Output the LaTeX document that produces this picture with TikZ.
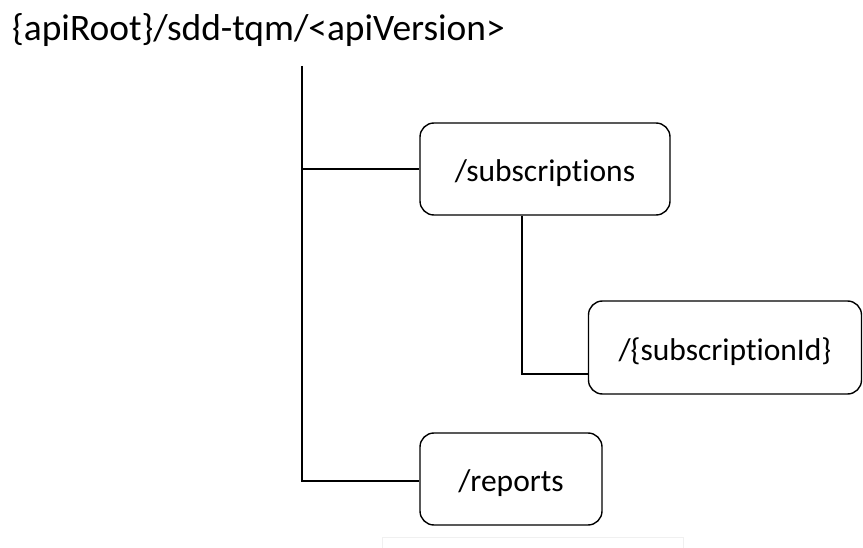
\documentclass[tikz,border=0pt]{standalone}
\usepackage{fontspec}
\setmainfont{Carlito}[Ligatures=NoCommon]
\newcommand{\lowtxt}[1]{\raisebox{-4pt}[\height][\depth]{#1}}
\begin{document}
\begin{tikzpicture}[x=1pt,y=-1pt,
  res/.style={draw,rounded corners=14pt,line width=1.4pt,inner sep=0pt,font=\fontsize{31.5}{36}\selectfont},
  link/.style={line width=1.4pt}]
\useasboundingbox (0,0) rectangle (863,548);
\node[anchor=west,inner sep=0pt,font=\fontsize{37.4}{44}\selectfont] (root) at (12,30) {\{apiRoot\}/sdd-tqm/<apiVersion>};
\node[res,minimum width=250pt,minimum height=92pt] (subs) at (545,169) {\lowtxt{/subscriptions}};
\node[res,minimum width=273pt,minimum height=93pt] (sid) at (725,347.5) {\lowtxt{/\{subscriptionId\}}};
\node[res,minimum width=182pt,minimum height=92pt] (rep) at (511,479) {\lowtxt{/reports}};
\coordinate (top) at (302,66);
\coordinate (bot) at (302,481);
\draw[link] (top) -- (bot) -- (bot -| rep.west);
\draw[link] (302,169) -- (subs.west);
\draw[link] (subs.south -| 522,0) |- (sid.west |- 0,374);
\draw[black!6,line width=1pt] (382,549) -- (382,537) -- (683,537) -- (683,549);
\end{tikzpicture}
\end{document}
